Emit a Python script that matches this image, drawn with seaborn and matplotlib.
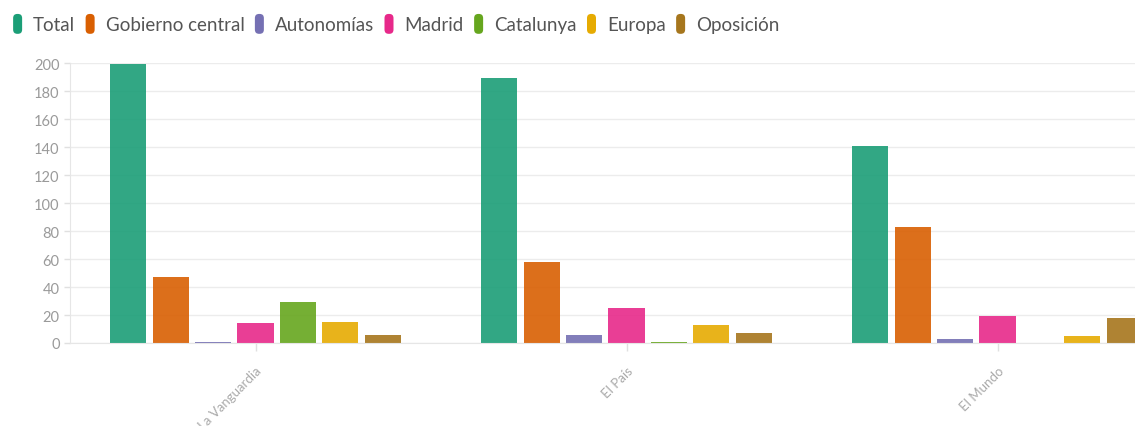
import matplotlib
matplotlib.use("Agg")
import matplotlib.pyplot as plt
import seaborn as sns
import pandas as pd
from matplotlib.patches import Patch, FancyBboxPatch
from matplotlib.legend_handler import HandlerPatch

diarios = ["La Vanguardia", "El País", "El Mundo"]
series = ["Total", "Gobierno central", "Autonomías", "Madrid", "Catalunya", "Europa", "Oposición"]
total = [199, 189, 141]
gobierno_central = [47, 58, 83]
autonomias = [1, 6, 3]
madrid = [14, 25, 19]
catalunya = [29, 1, 0]
europa = [15, 13, 5]
oposicion = [6, 7, 18]
colors = ["#1b9e77", "#d95f02", "#7570b3", "#e7298a", "#66a61e", "#e6ab02", "#a6761d"]

values = [total, gobierno_central, autonomias, madrid, catalunya, europa, oposicion]
rows = []
for s, vals in zip(series, values):
    for d, v in zip(diarios, vals):
        rows.append({"diario": d, "serie": s, "valor": v})
df = pd.DataFrame(rows)

sns.set_style("white")
plt.rcParams["font.family"] = ["Lato", "DejaVu Sans"]

fig = plt.figure(figsize=(11.35, 4.27), dpi=100)
ax = fig.add_axes([70 / 1135, 1 - 344 / 427, 1113 / 1135, 280 / 427])

sns.barplot(data=df, x="diario", y="valor", hue="serie", order=diarios,
            hue_order=series, palette=colors, ax=ax, gap=0.15, alpha=0.9,
            saturation=1, edgecolor="none", linewidth=0, legend=False)

ax.set_xlim(-0.5, 2.5)
ax.set_ylim(0, 200)
ax.set_yticks(range(0, 201, 20))
ax.set_xlabel("")
ax.set_ylabel("")
ax.grid(axis="y", color="#ececec", linewidth=1)
ax.set_axisbelow(True)
for sp in ["top", "right"]:
    ax.spines[sp].set_visible(False)
ax.spines["left"].set_color("#e6e6e6")
ax.spines["bottom"].set_color("#e6e6e6")
ax.tick_params(axis="y", colors="#e0e0e0", labelcolor="#9a9a9a", labelsize=10.5, length=4, width=1, left=True)
ax.tick_params(axis="x", colors="#e0e0e0", labelcolor="#aaaaaa", labelsize=9.5, length=6, width=1,
               pad=9, bottom=True)
for lab in ax.get_xticklabels():
    lab.set_rotation(45)
    lab.set_ha("right")
    lab.set_rotation_mode("anchor")


class RoundHandler(HandlerPatch):
    def create_artists(self, legend, orig_handle, xdescent, ydescent, width, height, fontsize, trans):
        p = FancyBboxPatch((-xdescent, -ydescent - 2), width, height + 4,
                           boxstyle="round,pad=0,rounding_size=3",
                           facecolor=orig_handle.get_facecolor(), edgecolor="none",
                           transform=trans)
        return [p]


handles = [Patch(facecolor=c) for c in colors]
fig.legend(handles, series, loc="upper left", bbox_to_anchor=(0.0, 0.99),
           ncol=7, frameon=False, fontsize=13.5, handletextpad=0.58,
           columnspacing=0.56, handlelength=0.48, handleheight=0.8,
           labelcolor="#555555", borderaxespad=0.3,
           handler_map={Patch: RoundHandler()})

fig.savefig("out.png", dpi=100)
